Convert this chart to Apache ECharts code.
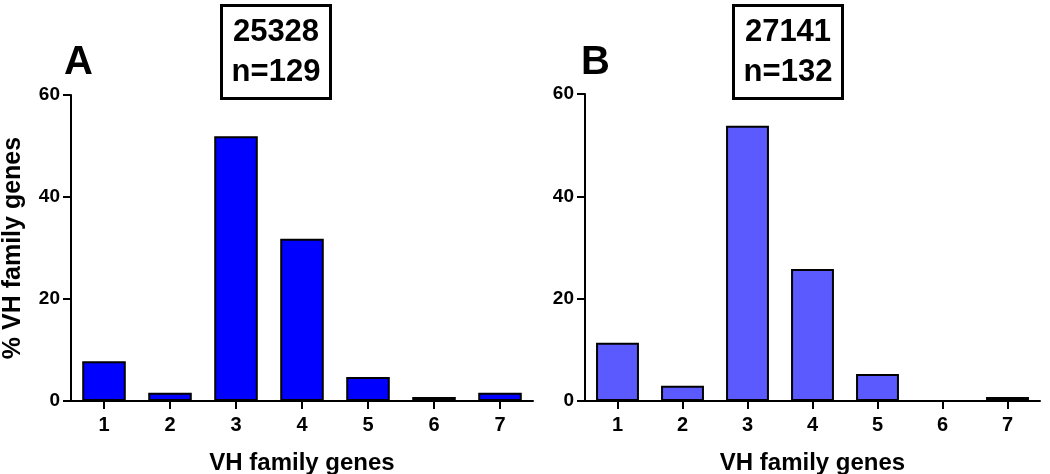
<!DOCTYPE html>
<html>
<head>
<meta charset="utf-8">
<script src="https://cdn.jsdelivr.net/npm/echarts@6/dist/echarts.min.js"></script>
<style>
html,body{margin:0;padding:0;background:#fff;}
#c{width:1050px;height:474px;}
</style>
</head>
<body>
<div id="c"></div>
<script>
const categories = ['1','2','3','4','5','6','7'];
const valuesA = [7.8, 1.6, 51.9, 31.8, 4.7, 0.8, 1.6];
const valuesB = [11.4, 3.0, 53.8, 25.8, 5.3, 0, 0.8];
const yTicks = [0, 20, 40, 60];
const panelA = { letter: 'A', label: '25328\nn=129' };
const panelB = { letter: 'B', label: '27141\nn=132' };
const xName = 'VH family genes';
const yName = '% VH family genes';

const FONT = 'Liberation Sans, Arial, sans-serif';
const chart = echarts.init(document.getElementById('c'), null, { renderer: 'canvas' });

function xAxis(gi) {
  return {
    type: 'category', gridIndex: gi, data: categories,
    boundaryGap: true,
    name: xName, nameLocation: 'middle', nameGap: 50,
    nameTextStyle: { fontFamily: FONT, fontWeight: 'bold', fontSize: 24, color: '#000' },
    axisLine: { lineStyle: { color: '#000', width: 2 } },
    axisTick: { show: true, alignWithLabel: true, length: 8, lineStyle: { color: '#000', width: 2 } },
    axisLabel: { fontFamily: FONT, fontWeight: 'bold', fontSize: 20, color: '#000', margin: 14 },
    splitLine: { show: false }
  };
}
function yAxis(gi, withName) {
  return {
    type: 'value', gridIndex: gi, min: yTicks[0], max: yTicks[yTicks.length - 1], interval: 20,
    name: withName ? yName : '', nameLocation: 'middle', nameGap: 45,
    nameTextStyle: { fontFamily: FONT, fontWeight: 'bold', fontSize: 25, color: '#000' },
    axisLine: { show: true, lineStyle: { color: '#000', width: 2 } },
    axisTick: { show: true, length: 8, lineStyle: { color: '#000', width: 2 } },
    axisLabel: { fontFamily: FONT, fontWeight: 'bold', fontSize: 19, color: '#000', margin: 11 },
    splitLine: { show: false }
  };
}
function boxTitle(p, left) {
  return {
    text: p.label, left: left, top: 5, textAlign: 'center',
    borderColor: '#000', borderWidth: 3, padding: [7, 10, 7, 10],
    textStyle: { fontFamily: FONT, fontWeight: 'bold', fontSize: 31, color: '#000', lineHeight: 40 }
  };
}
function letterTitle(p, left) {
  return {
    text: p.letter, left: left, top: 38,
    textStyle: { fontFamily: FONT, fontWeight: 'bold', fontSize: 40, color: '#000' }
  };
}

chart.setOption({
  animation: false,
  backgroundColor: '#fff',
  title: [
    boxTitle(panelA, 266),
    boxTitle(panelB, 778),
    letterTitle(panelA, 59),
    letterTitle(panelB, 576)
  ],
  grid: [
    { left: 71, top: 95, width: 462, height: 306, containLabel: false, outerBoundsMode: 'none' },
    { left: 585, top: 94, width: 455, height: 307, containLabel: false, outerBoundsMode: 'none' }
  ],
  xAxis: [xAxis(0), xAxis(1)],
  yAxis: [yAxis(0, true), yAxis(1, false)],
  series: [
    { type: 'bar', xAxisIndex: 0, yAxisIndex: 0, data: valuesA, barWidth: '66%',
      itemStyle: { color: '#0000FF', borderColor: '#000', borderWidth: 2 } },
    { type: 'bar', xAxisIndex: 1, yAxisIndex: 1, data: valuesB, barWidth: '66%',
      itemStyle: { color: '#5A5AFF', borderColor: '#000', borderWidth: 2 } }
  ]
});
</script>
</body>
</html>
